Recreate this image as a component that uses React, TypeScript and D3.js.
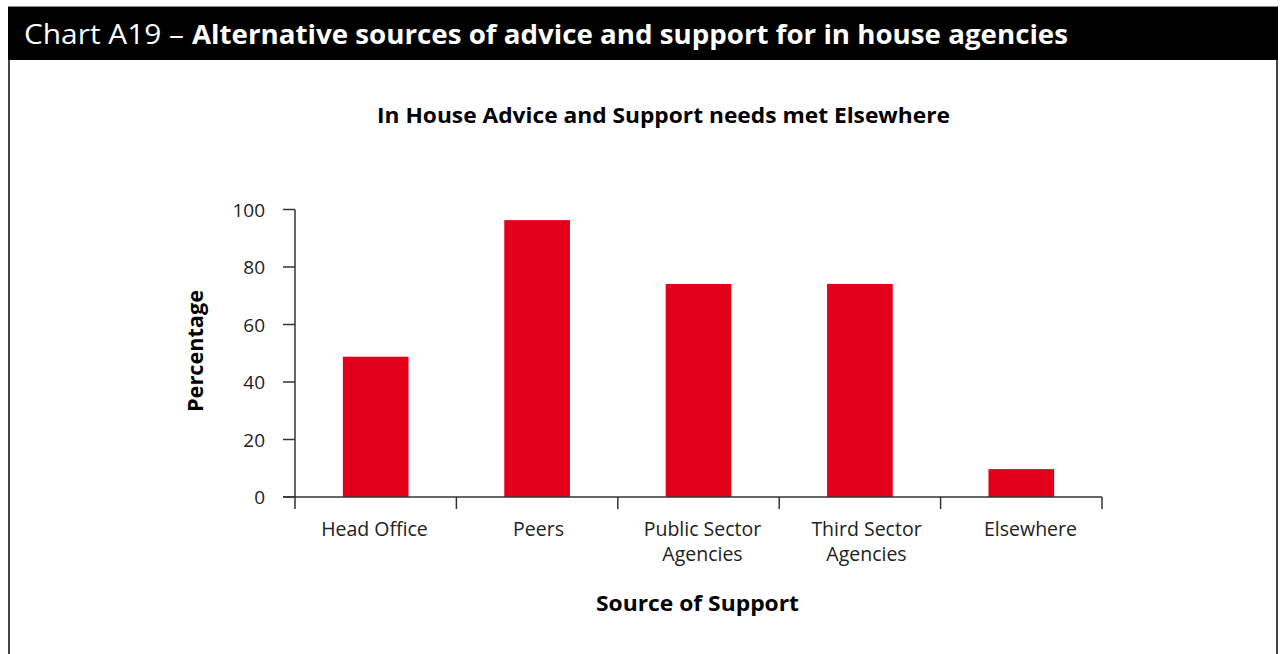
import React from "react";
import * as d3 from "d3";

const categories: string[][] = [
  ["Head Office"],
  ["Peers"],
  ["Public Sector", "Agencies"],
  ["Third Sector", "Agencies"],
  ["Elsewhere"],
];
const values: number[] = [48.8, 96.3, 74.1, 74.1, 9.7];
const yTicks: number[] = [0, 20, 40, 60, 80, 100];

const W = 1284;
const H = 654;
const FONT = "'Open Sans', 'Noto Sans', sans-serif";

export default function App() {
  const left = 295;
  const right = 1102;
  const top = 209.5;
  const bottom = 497;
  const keys = categories.map((c) => c.join(" "));
  const x = d3.scaleBand<string>().domain(keys).range([left, right]).padding(0);
  // category labels sit on a slightly wider spacing than the bars
  const xl = d3.scaleBand<string>().domain(keys).range([292.5, 1112.5]).padding(0);
  const y = d3.scaleLinear().domain([0, 100]).range([bottom, top]);
  const barFrac = 0.407;
  const bw = x.bandwidth() * barFrac;
  const axisColor = "#333";

  return (
    <svg
      width={W}
      height={H}
      style={{ position: "absolute", left: 0, top: 0, display: "block" }}
      fontFamily={FONT}
    >
      <rect x={0} y={0} width={W} height={H} fill="#fff" />
      {/* box border */}
      <line x1={9} y1={6} x2={9} y2={H} stroke="#444" strokeWidth={2} />
      <line x1={1277} y1={6} x2={1277} y2={H} stroke="#444" strokeWidth={2} />
      <rect x={8} y={6.5} width={1270} height={53.5} fill="#000" />
      <line x1={8} y1={6.5} x2={1278} y2={6.5} stroke="#888" strokeWidth={1} />
      <text x={24} y={43.5} fill="#fff" fontSize={27} textLength={160} lengthAdjust="spacingAndGlyphs">
        Chart A19 –
      </text>
      <text x={192} y={43.5} fill="#fff" fontSize={27} fontWeight="bold" textLength={876} lengthAdjust="spacingAndGlyphs">
        Alternative sources of advice and support for in house agencies
      </text>

      <text x={377} y={123} fontSize={20.5} fontWeight="bold" fill="#000" textLength={573} lengthAdjust="spacingAndGlyphs">
        In House Advice and Support needs met Elsewhere
      </text>

      {/* bars */}
      {values.map((v, i) => {
        const cx = (x(keys[i]) as number) + x.bandwidth() / 2;
        return (
          <rect
            key={keys[i]}
            x={cx - bw / 2}
            y={y(v)}
            width={bw}
            height={y(0) - y(v)}
            fill="#E2001A"
          />
        );
      })}

      {/* y axis */}
      <line x1={left} y1={top} x2={left} y2={bottom + 12} stroke={axisColor} strokeWidth={1.5} />
      {yTicks.map((t) => (
        <g key={t}>
          <line x1={left - 12} y1={y(t)} x2={left} y2={y(t)} stroke={axisColor} strokeWidth={1.5} />
          <text x={left - 30} y={y(t) + 7} textAnchor="end" fontSize={19} fill="#222">
            {t}
          </text>
        </g>
      ))}

      {/* x axis */}
      <line x1={left - 12} y1={bottom} x2={right} y2={bottom} stroke={axisColor} strokeWidth={1.5} />
      {keys.map((k) => (
        <line
          key={"t" + k}
          x1={(x(k) as number) + x.bandwidth()}
          y1={bottom}
          x2={(x(k) as number) + x.bandwidth()}
          y2={bottom + 12}
          stroke={axisColor}
          strokeWidth={1.5}
        />
      ))}
      {categories.map((lines, i) => {
        const cx = (xl(keys[i]) as number) + xl.bandwidth() / 2;
        return (
          <text key={"l" + keys[i]} textAnchor="middle" fontSize={19.5} fill="#222">
            {lines.map((ln, j) => (
              <tspan key={j} x={cx} y={536 + j * 25}>
                {ln}
              </tspan>
            ))}
          </text>
        );
      })}

      <text x={596} y={611} fontSize={21} fontWeight="bold" fill="#000" textLength={203} lengthAdjust="spacingAndGlyphs">
        Source of Support
      </text>
      <text
        transform={`translate(203, 351) rotate(-90)`}
        textAnchor="middle"
        fontSize={21}
        fontWeight="bold"
        fill="#000"
        textLength={122}
        lengthAdjust="spacingAndGlyphs"
      >
        Percentage
      </text>
    </svg>
  );
}
